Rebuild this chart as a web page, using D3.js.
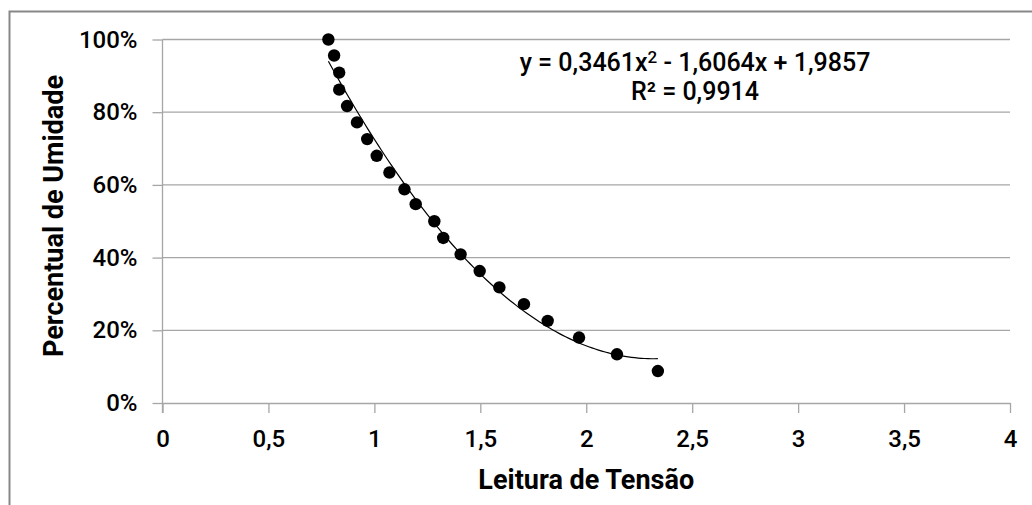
<!DOCTYPE html>
<html>
<head>
<meta charset="utf-8">
<script src="https://cdn.jsdelivr.net/npm/d3@7"></script>
<style>
  body { margin: 0; background: #fff; }
  svg { display: block; }
  text { font-family: Roboto, "DejaVu Sans Condensed", sans-serif; fill: #000; }
</style>
</head>
<body>
<script>
// leitura de tensao (V) e percentual de umidade
var tensao = [0.783, 0.810, 0.834, 0.834, 0.871, 0.918, 0.966, 1.011, 1.071, 1.142, 1.195,
              1.283, 1.325, 1.407, 1.497, 1.590, 1.706, 1.818, 1.966, 2.145, 2.338];
var umidade = [1.000, 0.956, 0.909, 0.862, 0.817, 0.772, 0.726, 0.680, 0.634, 0.588, 0.547,
               0.500, 0.454, 0.409, 0.363, 0.318, 0.272, 0.226, 0.180, 0.134, 0.088];
var xTicks = [0, 0.5, 1, 1.5, 2, 2.5, 3, 3.5, 4];
var yTicks = [0, 0.2, 0.4, 0.6, 0.8, 1];
// coeficientes da linha de tendencia (a x^2 + b x + c)
var coef = [0.3461, -1.6064, 1.9857];

var width = 1032, height = 505;
var margin = {top: 39.5, right: 22, bottom: 102, left: 162.5};

var svg = d3.select("body").append("svg")
  .attr("width", width)
  .attr("height", height);

// borda do grafico
svg.append("rect")
  .attr("x", 9.5).attr("y", 11.5)
  .attr("width", 1100).attr("height", 600)
  .attr("fill", "none")
  .attr("stroke", "#878787")
  .attr("stroke-width", 2);

var xScale = d3.scaleLinear()
  .domain([0, 4])
  .range([margin.left, width - margin.right]);

var yScale = d3.scaleLinear()
  .domain([0, 1])
  .range([height - margin.bottom, margin.top]);

// grade horizontal
svg.append("g").selectAll("line")
  .data(yTicks.filter(function(d) { return d > 0; }))
  .enter().append("line")
  .attr("x1", xScale(0)).attr("x2", xScale(4))
  .attr("y1", function(d) { return yScale(d); })
  .attr("y2", function(d) { return yScale(d); })
  .attr("stroke", "#a6a6a6")
  .attr("stroke-width", 1.3);

var xAxis = svg.append("g")
  .attr("transform", "translate(0," + yScale(0) + ")")
  .call(d3.axisBottom(xScale)
    .tickValues(xTicks)
    .tickSize(10)
    .tickSizeOuter(0)
    .tickPadding(17)
    .tickFormat(function(d) { return String(d).replace(".", ","); }));

var yAxis = svg.append("g")
  .attr("transform", "translate(" + xScale(0) + ",0)")
  .call(d3.axisLeft(yScale)
    .tickValues(yTicks)
    .tickSize(10)
    .tickSizeOuter(0)
    .tickPadding(15)
    .tickFormat(function(d) { return Math.round(d * 100) + "%"; }));

// eixo y desce ate o fim do tick do eixo x
yAxis.select(".domain").attr("d", "M0," + yScale(1) + "V" + (yScale(0) + 10));

[xAxis, yAxis].forEach(function(ax) {
  ax.selectAll(".domain, line").attr("stroke", "#a6a6a6").attr("stroke-width", 1.3);
  ax.selectAll("text")
    .style("font-family", "Roboto, sans-serif")
    .style("font-size", "24px")
    .style("font-weight", 500)
    .attr("fill", "#111");
});

// linha de tendencia polinomial
var trendPts = d3.range(0, 101).map(function(i) {
  var xv = d3.min(tensao) + (d3.max(tensao) - d3.min(tensao)) * i / 100;
  return [xv, coef[0] * xv * xv + coef[1] * xv + coef[2]];
});

svg.append("path")
  .datum(trendPts)
  .attr("fill", "none")
  .attr("stroke", "#000")
  .attr("stroke-width", 1.2)
  .attr("d", d3.line()
    .x(function(d) { return xScale(d[0]); })
    .y(function(d) { return yScale(d[1]); }));

// pontos
svg.append("g").selectAll("circle")
  .data(tensao)
  .enter().append("circle")
  .attr("cx", function(d) { return xScale(d); })
  .attr("cy", function(d, i) { return yScale(umidade[i]); })
  .attr("r", 6.2)
  .attr("fill", "#000");

// equacao
var eq = svg.append("text")
  .attr("x", 695).attr("y", 71)
  .attr("text-anchor", "middle")
  .style("font-size", "25px")
  .style("font-weight", 500)
  .attr("fill", "#111");
eq.append("tspan").text("y = 0,3461x");
eq.append("tspan").attr("dy", -8).style("font-size", "17px").text("2");
eq.append("tspan").attr("dy", 8).text(" - 1,6064x + 1,9857");

svg.append("text")
  .attr("x", 695).attr("y", 100)
  .attr("text-anchor", "middle")
  .style("font-size", "25px")
  .style("font-weight", 500)
  .attr("fill", "#111")
  .text("R² = 0,9914");

// titulos dos eixos
svg.append("text")
  .attr("x", (xScale(0) + xScale(4)) / 2)
  .attr("y", 489)
  .attr("text-anchor", "middle")
  .style("font-size", "27px")
  .style("font-weight", "bold")
  .text("Leitura de Tensão");

svg.append("text")
  .attr("transform", "translate(63," + 216 + ") rotate(-90)")
  .attr("text-anchor", "middle")
  .style("font-size", "27px")
  .style("font-weight", "bold")
  .text("Percentual de Umidade");
</script>
</body>
</html>
